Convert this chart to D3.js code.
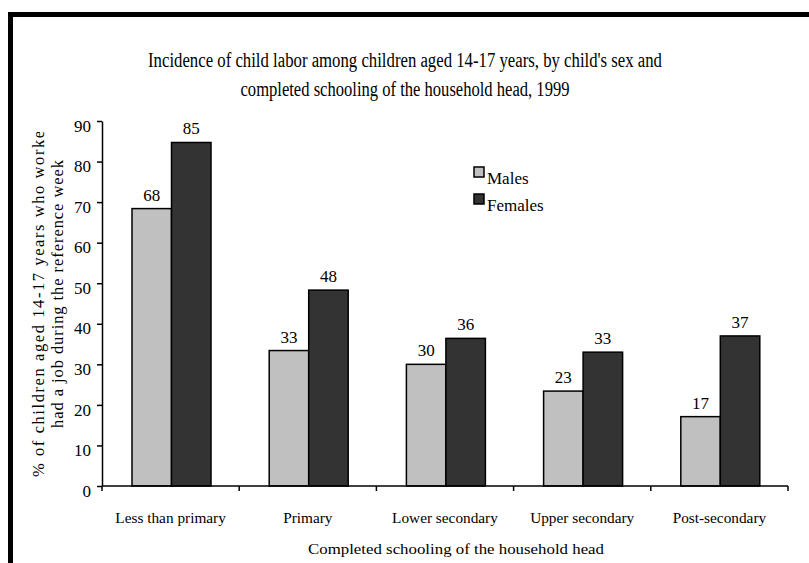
<!DOCTYPE html>
<html><head><meta charset="utf-8">
<script src="https://cdn.jsdelivr.net/npm/d3@7"></script>
<style>body{margin:0;background:#fff}svg{display:block}text{font-family:"Liberation Serif","Times New Roman",Times,serif;fill:#000}</style>
</head><body>
<script>
const categories = ["Less than primary", "Primary", "Lower secondary", "Upper secondary", "Post-secondary"];
const seriesNames = ["Males", "Females"];
const males = [68.4, 33.4, 30.0, 23.4, 17.1];
const females = [84.7, 48.3, 36.4, 33.0, 37.0];
const yTicks = [0, 10, 20, 30, 40, 50, 60, 70, 80, 90];
const colors = ["#c0c0c0", "#333333"];
const titleLines = ["Incidence of child labor among children aged 14-17 years, by child's sex and", "completed schooling of the household head, 1999"];
const yTitleLines = ["% of children aged 14-17 years who worked", "had a job during the reference week"];
const xTitle = "Completed schooling of the household head";

const W = 809, H = 563;
const svg = d3.select("body").append("svg").attr("width", W).attr("height", H);

// frame
svg.append("rect").attr("x", 8).attr("y", 12).attr("width", W).attr("height", 5).attr("fill", "#000");
svg.append("rect").attr("x", 8).attr("y", 12).attr("width", 5).attr("height", H).attr("fill", "#000");

const x0 = 102, x1 = 788, yTop = 121, yBot = 486;
const x = d3.scaleBand().domain(categories).range([x0, x1]).padding(0);
const xs = d3.scaleBand().domain(seriesNames).range([30, 109]).padding(0);
const y = d3.scaleLinear().domain([0, 90]).range([yBot, yTop]);

// title
svg.append("text").attr("x", 405).attr("y", 67).attr("text-anchor", "middle").attr("font-size", 20)
  .attr("textLength", 514).attr("lengthAdjust", "spacingAndGlyphs").text(titleLines[0]);
svg.append("text").attr("x", 405).attr("y", 96).attr("text-anchor", "middle").attr("font-size", 20)
  .attr("textLength", 329).attr("lengthAdjust", "spacingAndGlyphs").text(titleLines[1]);

// bars
const data = categories.map((c, i) => ({c, vals: [males[i], females[i]]}));
const g = svg.append("g");
data.forEach(d => {
  d.vals.forEach((v, j) => {
    const bx = x(d.c) + xs(seriesNames[j]);
    g.append("rect").attr("x", bx).attr("y", y(v)).attr("width", xs.bandwidth()).attr("height", yBot - y(v))
      .attr("fill", colors[j]).attr("stroke", "#000").attr("stroke-width", 1.5);
    g.append("text").attr("x", bx + xs.bandwidth() / 2).attr("y", y(v) - 8).attr("text-anchor", "middle")
      .attr("font-size", 17).text(d3.format(".0f")(v));
  });
});

// y axis
const ya = svg.append("g").attr("transform", `translate(${x0},0)`)
  .call(d3.axisLeft(y).tickValues(yTicks).tickSize(5).tickSizeOuter(0).tickPadding(6));
ya.select(".domain").attr("stroke-width", 1.5);
ya.selectAll(".tick line").attr("stroke-width", 1.5);
ya.selectAll(".tick text").attr("font-size", 17).attr("dy", "0.6em").attr("x", -11)
  .style("font-family", '"Liberation Serif","Times New Roman",serif');

// x axis
svg.append("line").attr("x1", x0).attr("x2", x1).attr("y1", yBot).attr("y2", yBot).attr("stroke", "#000").attr("stroke-width", 1.5);
const edges = categories.map(c => x(c)).concat([x1]);
svg.selectAll(".xt").data(edges).enter().append("line").attr("x1", d => d).attr("x2", d => d)
  .attr("y1", yBot).attr("y2", yBot + 5).attr("stroke", "#000").attr("stroke-width", 1.5);
svg.selectAll(".xl").data(categories).enter().append("text").attr("x", d => x(d) + x.bandwidth() / 2)
  .attr("y", 523).attr("text-anchor", "middle").attr("font-size", 15.3).text(d => d);

// x title
svg.append("text").attr("x", 456).attr("y", 554).attr("text-anchor", "middle").attr("font-size", 15.5)
  .attr("textLength", 296).attr("lengthAdjust", "spacingAndGlyphs").text(xTitle);

// y title
svg.append("clipPath").attr("id", "yclip").append("rect").attr("x", 0).attr("y", 132).attr("width", 100).attr("height", 420);
const yt = svg.append("g").attr("clip-path", "url(#yclip)");
yt.append("text").attr("transform", "translate(44,299) rotate(-90)").attr("text-anchor", "middle").attr("font-size", 16.5)
  .attr("textLength", 356).attr("lengthAdjust", "spacing").text(yTitleLines[0]);
yt.append("text").attr("transform", "translate(63,294) rotate(-90)").attr("text-anchor", "middle").attr("font-size", 16.5)
  .attr("textLength", 268).attr("lengthAdjust", "spacing").text(yTitleLines[1]);

// legend
const lg = svg.append("g");
seriesNames.forEach((s, i) => {
  lg.append("rect").attr("x", 474).attr("y", 167 + i * 27).attr("width", 10).attr("height", 10)
    .attr("fill", colors[i]).attr("stroke", "#000").attr("stroke-width", 1.5);
  lg.append("text").attr("x", 487).attr("y", 184 + i * 27).attr("font-size", 17).text(s);
});
</script>
</body></html>
